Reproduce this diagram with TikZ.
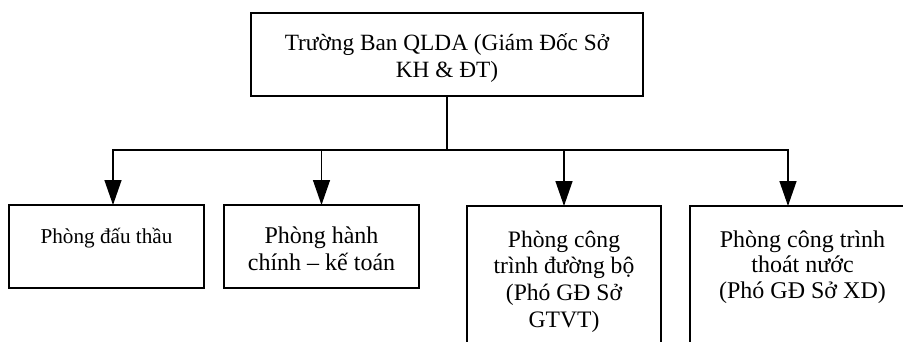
\documentclass[tikz,border=0pt]{standalone}
\usepackage{fontspec}
\setmainfont{Liberation Serif}
\usetikzlibrary{arrows.meta}

% Box content: width, height, first baseline from top, font size, line skip, text
\newcommand\cellbox[6]{%
  \parbox[c][#2][t]{#1}{\centering\fontsize{#4}{#5}\selectfont\rule{0pt}{#3}#6}}

\begin{document}
\begin{tikzpicture}[x=1pt,y=-1pt,
  box/.style={draw, line width=1.8pt, inner sep=0pt, outer sep=0pt, anchor=north west},
  link/.style={line width=1.4pt},
  arr/.style={line width=1.4pt, -{Triangle[length=25pt,width=17pt]}}]
\useasboundingbox (0,0) rectangle (903,341);
\clip (0,0) rectangle (903,341);

% Head of the board
\node[box] (top) at (251,13)
  {\cellbox{392pt}{83pt}{37pt}{23.3}{27}{Trường Ban QLDA (Giám Đốc Sở\\KH \& ĐT)}};

% Departments
\node[box] (b1) at (9,205)
  {\cellbox{195pt}{83pt}{38pt}{21.2}{26.8}{Phòng đấu thầu}};
\node[box] (b2) at (224,205)
  {\cellbox{195pt}{83pt}{38pt}{24}{27}{Phòng hành\\chính – kế toán}};
\node[box] (b3) at (467,206)
  {\cellbox{194pt}{170pt}{41pt}{23.6}{26.7}{Phòng công\\trình đường bộ\\(Phó GĐ Sở\\GTVT)}};
\node[box] (b4) at (690,206)
  {\cellbox{225pt}{170pt}{41pt}{24}{25.5}{Phòng công trình\\thoát nước\\(Phó GĐ Sở XD)}};

% Connectors
\coordinate (bus) at (447,150);
\draw[link] (top.south) -- (bus);
\draw[arr] (bus) -| ([xshift=6.5pt]b1.north);
\draw[arr] (bus) -| (b2.north);
\draw[arr] (bus) -| (b3.north);
\draw[arr] (bus) -| ([xshift=-14.5pt]b4.north);
\end{tikzpicture}
\end{document}
